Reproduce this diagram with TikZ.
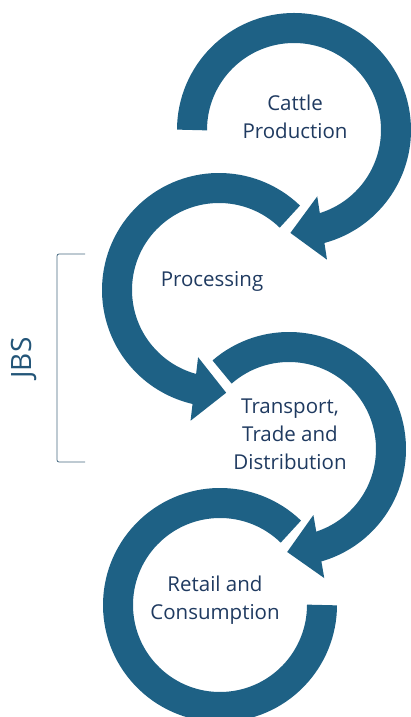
\documentclass[tikz,border=0pt]{standalone}
\usepackage{fontspec}
\setmainfont{Open Sans}
\usetikzlibrary{calc}
\definecolor{ring}{RGB}{30,97,133}
\definecolor{txt}{RGB}{31,58,96}
\definecolor{jbscol}{RGB}{35,85,120}
\definecolor{brk}{RGB}{70,105,128}
\begin{document}
\begin{tikzpicture}[x=1pt,y=1pt,
  seg/.style={draw=ring, line width=30pt},
  head/.style={fill=ring},
  lbl/.style={text=txt, font=\fontsize{20.5}{28}\selectfont, align=center, inner sep=0pt}]
\useasboundingbox (0,0) rectangle (411,717);
\clip (0,0) rectangle (411,717);
\coordinate (c1) at (294,587);
\coordinate (c2) at (219,427);
\coordinate (c3) at (289,268);
\coordinate (c4) at (220,112);
% circle 1
\draw[seg] ($(c1)+(180:102)$) arc[start angle=180, end angle=-77, radius=102];
\coordinate (p1) at ($(c1)+(-74:102)$);
\coordinate (t1) at ($(c1)+(-92:103)$);
\fill[head] ($(p1)!32pt!90:(t1)$) -- (t1) -- ($(p1)!32pt!-90:(t1)$) -- cycle;
% circle 2
\draw[seg] ($(c2)+(46:102)$) arc[start angle=46, end angle=259, radius=102];
\coordinate (p2) at ($(c2)+(256:102)$);
\coordinate (t2) at ($(c2)+(274:103)$);
\fill[head] ($(p2)!32pt!90:(t2)$) -- (t2) -- ($(p2)!32pt!-90:(t2)$) -- cycle;
% circle 3
\draw[seg] ($(c3)+(131:102)$) arc[start angle=131, end angle=-76, radius=102];
\coordinate (p3) at ($(c3)+(-73:102)$);
\coordinate (t3) at ($(c3)+(-91:103)$);
\fill[head] ($(p3)!32pt!90:(t3)$) -- (t3) -- ($(p3)!32pt!-90:(t3)$) -- cycle;
% circle 4
\draw[seg] ($(c4)+(46:102)$) arc[start angle=46, end angle=360, radius=102];
% labels
\node[lbl] (cattle) at (295,600) {Cattle\\Production};
\node[lbl] (proc) at (212,436) {Processing};
\node[lbl] (trans) at (290,283) {Transport,\\Trade and\\Distribution};
\node[lbl] (retail) at (215,117) {Retail and\\Consumption};
% bracket
\coordinate (bt) at (85,463);
\coordinate (bb) at (85,255);
\draw[brk, line width=0.8pt, rounded corners=2pt] (bt) -- (57,463) -- (57,255) -- (bb);
\node[text=jbscol, font=\fontsize{28}{32}\selectfont, rotate=90, inner sep=0pt] (jbs) at (24,359) {JBS};
\end{tikzpicture}
\end{document}
